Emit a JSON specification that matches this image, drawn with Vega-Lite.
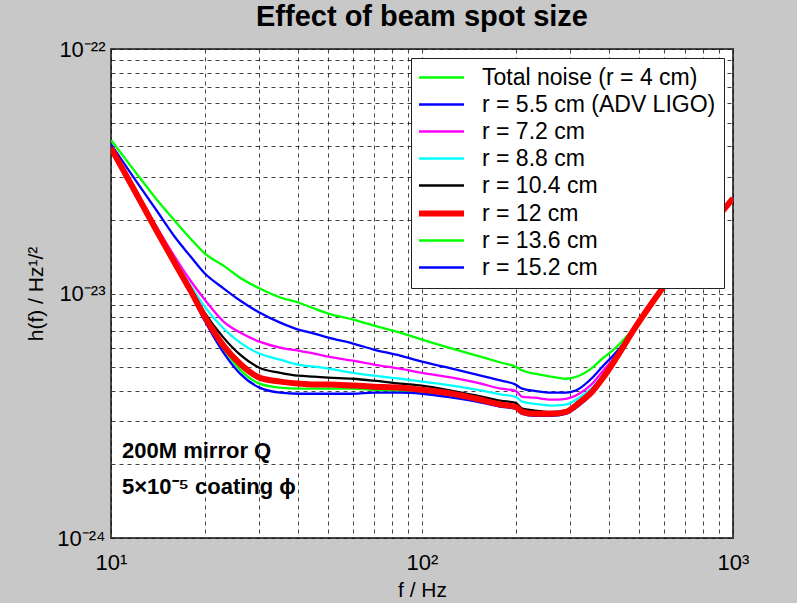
{
  "$schema": "https://vega.github.io/schema/vega-lite/v6.json",
  "width": 622,
  "height": 489,
  "autosize": {"type": "none"},
  "padding": {"left": 111, "top": 49, "right": 64, "bottom": 65},
  "background": "#c8c8c8",
  "title": {
    "text": "Effect of beam spot size",
    "font": "Liberation Sans",
    "fontSize": 29,
    "fontWeight": "bold",
    "color": "black",
    "anchor": "middle",
    "frame": "group",
    "baseline": "alphabetic",
    "offset": -17
  },
  "config": {
    "view": {"fill": "white", "stroke": "#444", "strokeWidth": 2},
    "axis": {
      "labelFont": "Liberation Sans",
      "labelFontSize": 22,
      "labelColor": "black",
      "titleFont": "Liberation Sans",
      "titleFontSize": 21,
      "titleFontWeight": "normal",
      "titleColor": "black",
      "grid": true,
      "gridColor": "#111",
      "gridDash": [4, 4],
      "gridWidth": 1,
      "gridOpacity": 0.8,
      "domain": false,
      "ticks": false,
      "labelOverlap": false,
      "labelBound": false,
      "labelFlush": false
    },
    "legend": {
      "orient": "top-right",
      "offset": 9,
      "fillColor": "white",
      "strokeColor": "#222",
      "strokeWidth": 1,
      "padding": 8,
      "labelFont": "Liberation Sans",
      "labelFontSize": 23,
      "labelColor": "black",
      "symbolType": "stroke",
      "symbolSize": 2025,
      "symbolOffset": 11,
      "labelOffset": 29,
      "rowPadding": 3,
      "labelLimit": 400
    }
  },
  "layer": [
    {
      "data": {"name": "curves", "values": [
        {"f": 10, "total": 4.24e-23, "r5_5": 4.08e-23, "r7_2": 3.93e-23, "r8_8": 3.93e-23, "r10_4": 3.93e-23, "r12": 3.93e-23, "r13_6": 3.93e-23, "r15_2": 3.93e-23},
        {"f": 12, "total": 3.13e-23, "r5_5": 2.90e-23, "r7_2": 2.64e-23, "r8_8": 2.62e-23, "r10_4": 2.59e-23, "r12": 2.59e-23, "r13_6": 2.57e-23, "r15_2": 2.55e-23},
        {"f": 14, "total": 2.43e-23, "r5_5": 2.19e-23, "r7_2": 1.88e-23, "r8_8": 1.85e-23, "r10_4": 1.83e-23, "r12": 1.81e-23, "r13_6": 1.80e-23, "r15_2": 1.78e-23},
        {"f": 16, "total": 1.99e-23, "r5_5": 1.71e-23, "r7_2": 1.42e-23, "r8_8": 1.38e-23, "r10_4": 1.35e-23, "r12": 1.34e-23, "r13_6": 1.33e-23, "r15_2": 1.32e-23},
        {"f": 18, "total": 1.68e-23, "r5_5": 1.42e-23, "r7_2": 1.13e-23, "r8_8": 1.08e-23, "r10_4": 1.05e-23, "r12": 1.03e-23, "r13_6": 1.02e-23, "r15_2": 1.01e-23},
        {"f": 20, "total": 1.46e-23, "r5_5": 1.21e-23, "r7_2": 9.45e-24, "r8_8": 8.84e-24, "r10_4": 8.36e-24, "r12": 8.05e-24, "r13_6": 7.90e-24, "r15_2": 7.75e-24},
        {"f": 23, "total": 1.30e-23, "r5_5": 1.05e-23, "r7_2": 7.68e-24, "r8_8": 7.19e-24, "r10_4": 6.60e-24, "r12": 6.12e-24, "r13_6": 5.95e-24, "r15_2": 5.73e-24},
        {"f": 26, "total": 1.16e-23, "r5_5": 9.36e-24, "r7_2": 6.92e-24, "r8_8": 6.30e-24, "r10_4": 5.62e-24, "r12": 5.16e-24, "r13_6": 4.88e-24, "r15_2": 4.70e-24},
        {"f": 30, "total": 1.05e-23, "r5_5": 8.36e-24, "r7_2": 6.36e-24, "r8_8": 5.68e-24, "r10_4": 4.97e-24, "r12": 4.53e-24, "r13_6": 4.28e-24, "r15_2": 4.12e-24},
        {"f": 35, "total": 9.63e-24, "r5_5": 7.60e-24, "r7_2": 6.01e-24, "r8_8": 5.36e-24, "r10_4": 4.74e-24, "r12": 4.36e-24, "r13_6": 4.12e-24, "r15_2": 3.93e-24},
        {"f": 40, "total": 9.19e-24, "r5_5": 7.12e-24, "r7_2": 5.84e-24, "r8_8": 5.12e-24, "r10_4": 4.61e-24, "r12": 4.28e-24, "r13_6": 4.08e-24, "r15_2": 3.89e-24},
        {"f": 45, "total": 8.68e-24, "r5_5": 6.86e-24, "r7_2": 5.68e-24, "r8_8": 5.02e-24, "r10_4": 4.57e-24, "r12": 4.24e-24, "r13_6": 4.08e-24, "r15_2": 3.89e-24},
        {"f": 50, "total": 8.28e-24, "r5_5": 6.60e-24, "r7_2": 5.52e-24, "r8_8": 4.93e-24, "r10_4": 4.53e-24, "r12": 4.24e-24, "r13_6": 4.08e-24, "r15_2": 3.89e-24},
        {"f": 60, "total": 7.82e-24, "r5_5": 6.24e-24, "r7_2": 5.31e-24, "r8_8": 4.74e-24, "r10_4": 4.48e-24, "r12": 4.20e-24, "r13_6": 4.08e-24, "r15_2": 3.89e-24},
        {"f": 70, "total": 7.39e-24, "r5_5": 5.90e-24, "r7_2": 5.12e-24, "r8_8": 4.61e-24, "r10_4": 4.40e-24, "r12": 4.16e-24, "r13_6": 4.04e-24, "r15_2": 3.93e-24},
        {"f": 85, "total": 6.92e-24, "r5_5": 5.57e-24, "r7_2": 4.93e-24, "r8_8": 4.48e-24, "r10_4": 4.28e-24, "r12": 4.12e-24, "r13_6": 4.00e-24, "r15_2": 3.93e-24},
        {"f": 100, "total": 6.48e-24, "r5_5": 5.26e-24, "r7_2": 4.74e-24, "r8_8": 4.36e-24, "r10_4": 4.20e-24, "r12": 4.04e-24, "r13_6": 3.97e-24, "r15_2": 3.89e-24},
        {"f": 125, "total": 5.95e-24, "r5_5": 4.93e-24, "r7_2": 4.53e-24, "r8_8": 4.20e-24, "r10_4": 4.00e-24, "r12": 3.89e-24, "r13_6": 3.82e-24, "r15_2": 3.75e-24},
        {"f": 150, "total": 5.57e-24, "r5_5": 4.66e-24, "r7_2": 4.32e-24, "r8_8": 4.04e-24, "r10_4": 3.82e-24, "r12": 3.71e-24, "r13_6": 3.64e-24, "r15_2": 3.61e-24},
        {"f": 180, "total": 5.21e-24, "r5_5": 4.40e-24, "r7_2": 4.08e-24, "r8_8": 3.86e-24, "r10_4": 3.64e-24, "r12": 3.51e-24, "r13_6": 3.48e-24, "r15_2": 3.44e-24},
        {"f": 200, "total": 5.02e-24, "r5_5": 4.24e-24, "r7_2": 4.00e-24, "r8_8": 3.78e-24, "r10_4": 3.57e-24, "r12": 3.44e-24, "r13_6": 3.41e-24, "r15_2": 3.38e-24},
        {"f": 210, "total": 4.84e-24, "r5_5": 4.08e-24, "r7_2": 3.78e-24, "r8_8": 3.61e-24, "r10_4": 3.38e-24, "r12": 3.28e-24, "r13_6": 3.25e-24, "r15_2": 3.22e-24},
        {"f": 230, "total": 4.70e-24, "r5_5": 4.00e-24, "r7_2": 3.75e-24, "r8_8": 3.54e-24, "r10_4": 3.32e-24, "r12": 3.22e-24, "r13_6": 3.19e-24, "r15_2": 3.16e-24},
        {"f": 260, "total": 4.57e-24, "r5_5": 3.93e-24, "r7_2": 3.68e-24, "r8_8": 3.48e-24, "r10_4": 3.28e-24, "r12": 3.22e-24, "r13_6": 3.19e-24, "r15_2": 3.16e-24},
        {"f": 290, "total": 4.48e-24, "r5_5": 3.93e-24, "r7_2": 3.71e-24, "r8_8": 3.51e-24, "r10_4": 3.32e-24, "r12": 3.28e-24, "r13_6": 3.25e-24, "r15_2": 3.22e-24},
        {"f": 320, "total": 4.61e-24, "r5_5": 4.08e-24, "r7_2": 3.89e-24, "r8_8": 3.75e-24, "r10_4": 3.64e-24, "r12": 3.57e-24, "r13_6": 3.51e-24, "r15_2": 3.48e-24},
        {"f": 350, "total": 4.93e-24, "r5_5": 4.48e-24, "r7_2": 4.24e-24, "r8_8": 4.08e-24, "r10_4": 3.97e-24, "r12": 3.93e-24, "r13_6": 3.89e-24, "r15_2": 3.86e-24},
        {"f": 380, "total": 5.41e-24, "r5_5": 5.02e-24, "r7_2": 4.79e-24, "r8_8": 4.61e-24, "r10_4": 4.53e-24, "r12": 4.48e-24, "r13_6": 4.48e-24, "r15_2": 4.44e-24},
        {"f": 420, "total": 6.01e-24, "r5_5": 5.73e-24, "r7_2": 5.57e-24, "r8_8": 5.47e-24, "r10_4": 5.41e-24, "r12": 5.41e-24, "r13_6": 5.36e-24, "r15_2": 5.36e-24},
        {"f": 480, "total": 7.19e-24, "r5_5": 7.12e-24, "r7_2": 7.12e-24, "r8_8": 7.12e-24, "r10_4": 7.12e-24, "r12": 7.12e-24, "r13_6": 7.12e-24, "r15_2": 7.12e-24},
        {"f": 550, "r12": 9.19e-24},
        {"f": 650, "r12": 1.231e-23},
        {"f": 800, "r12": 1.728e-23},
        {"f": 1000, "r12": 2.451e-23}
      ]},
      "transform": [
        {"fold": ["total", "r5_5", "r7_2", "r8_8", "r10_4", "r12", "r13_6", "r15_2"], "as": ["series", "h"]},
        {"filter": "isValid(datum.h) && datum.series != 'r12'"}
      ],
      "mark": {"type": "line", "clip": true, "strokeWidth": 2.3, "interpolate": "monotone"},
      "encoding": {
        "x": {
          "field": "f", "type": "quantitative",
          "scale": {"type": "log", "domain": [10, 1000], "nice": false},
          "axis": {
            "title": "f / Hz",
            "values": [10, 20, 30, 40, 50, 60, 70, 80, 90, 100, 200, 300, 400, 500, 600, 700, 800, 900, 1000],
            "labelExpr": "datum.value == 10 ? '10¹' : datum.value == 100 ? '10²' : datum.value == 1000 ? '10³' : ''",
            "labelPadding": 14,
            "titlePadding": 6
          }
        },
        "y": {
          "field": "h", "type": "quantitative",
          "scale": {"type": "log", "domain": [1e-24, 1e-22], "nice": false},
          "axis": {
            "title": "h(f) / Hz¹/²",
            "values": [1e-24, 2e-24, 3e-24, 4e-24, 5e-24, 6e-24, 7e-24, 8e-24, 9e-24, 1e-23, 2e-23, 3e-23, 4e-23, 5e-23, 6e-23, 7e-23, 8e-23, 9e-23, 1e-22],
            "labelExpr": "datum.value == 1e-22 ? '10⁻²²' : datum.value == 1e-23 ? '10⁻²³' : datum.value == 1e-24 ? '10⁻²⁴' : ''",
            "labelPadding": 6,
            "titlePadding": 10
          }
        },
        "color": {
          "field": "series", "type": "nominal",
          "scale": {
            "domain": ["total", "r5_5", "r7_2", "r8_8", "r10_4", "r12", "r13_6", "r15_2"],
            "range": ["#00ff00", "#0000ff", "#ff00ff", "#00ffff", "#000000", "#ff0000", "#00ff00", "#0000ff"]
          },
          "legend": {
            "title": null,
            "labelExpr": "datum.value == 'total' ? 'Total noise (r = 4 cm)' : datum.value == 'r5_5' ? 'r = 5.5 cm (ADV LIGO)' : datum.value == 'r7_2' ? 'r = 7.2 cm' : datum.value == 'r8_8' ? 'r = 8.8 cm' : datum.value == 'r10_4' ? 'r = 10.4 cm' : datum.value == 'r12' ? 'r = 12 cm' : datum.value == 'r13_6' ? 'r = 13.6 cm' : 'r = 15.2 cm'",
            "symbolStrokeWidth": 2.5,
            "encode": {"symbols": {"update": {"strokeWidth": {"signal": "datum.value == 'r12' ? 6 : 2.5"}}}}
          }
        }
      }
    },
    {
      "data": {"name": "curves"},
      "transform": [
        {"fold": ["total", "r5_5", "r7_2", "r8_8", "r10_4", "r12", "r13_6", "r15_2"], "as": ["series", "h"]},
        {"filter": "isValid(datum.h) && datum.series == 'r12'"}
      ],
      "mark": {"type": "line", "clip": true, "strokeWidth": 6, "interpolate": "monotone"},
      "encoding": {
        "x": {"field": "f", "type": "quantitative"},
        "y": {"field": "h", "type": "quantitative"},
        "color": {"field": "series", "type": "nominal"}
      }
    },
    {
      "data": {"values": [{}]},
      "mark": {"type": "text", "font": "Liberation Sans", "fontSize": 22, "fontWeight": "bold", "align": "left", "baseline": "middle", "lineHeight": 36, "color": "black"},
      "encoding": {
        "x": {"datum": 10.85},
        "y": {"datum": 2.26e-24},
        "text": {"value": ["200M mirror Q", "5×10⁻⁵ coating ϕ"]}
      }
    }
  ]
}
